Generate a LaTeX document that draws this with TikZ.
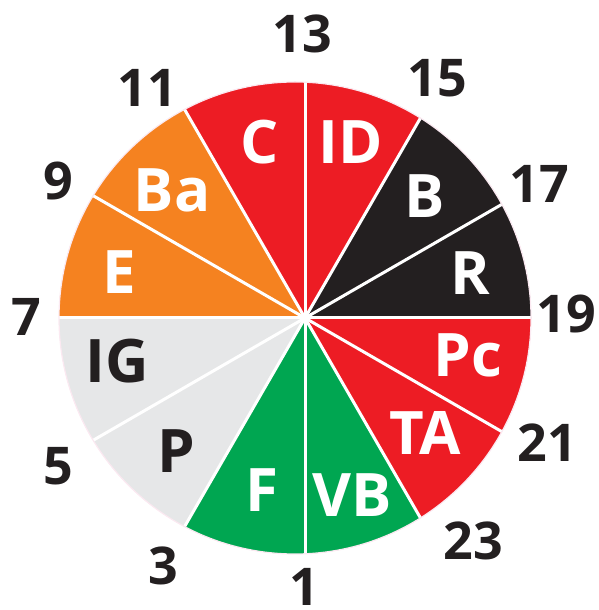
\documentclass[tikz,border=0pt]{standalone}
\usepackage{fontspec}
\setmainfont{Open Sans}
\definecolor{SegRed}{HTML}{ED1C24}
\definecolor{SegBlack}{HTML}{231F20}
\definecolor{SegOrange}{HTML}{F58220}
\definecolor{SegGreen}{HTML}{00A651}
\definecolor{SegGrey}{HTML}{E6E7E8}
\definecolor{RimPink}{HTML}{FBE9F1}
\tikzset{
  seglabel/.style={anchor=base, inner sep=0pt, font=\fontsize{60}{60}\selectfont\bfseries, text=white},
  numlabel/.style={anchor=base, inner sep=0pt, font=\fontsize{52}{52}\selectfont\bfseries, text=SegBlack},
  sepline/.style={white, line width=3pt},
}

\begin{document}
\begin{tikzpicture}[x=1pt, y=1pt]
  \useasboundingbox (0,0) rectangle (598,610);
  \coordinate (hub) at (305,292);
  \coordinate (ctr) at (295,292);

  % wedges
  \begin{scope}
    \clip (ctr) circle (236pt);
    \fill[SegBlack] (hub) -- ++(0:300pt) arc[start angle=0, end angle=60, radius=300pt] -- cycle;
    \fill[SegRed] (hub) -- ++(60:300pt) arc[start angle=60, end angle=120, radius=300pt] -- cycle;
    \fill[SegOrange] (hub) -- ++(120:300pt) arc[start angle=120, end angle=180, radius=300pt] -- cycle;
    \fill[SegGrey] (hub) -- ++(180:300pt) arc[start angle=180, end angle=240, radius=300pt] -- cycle;
    \fill[SegGreen] (hub) -- ++(240:300pt) arc[start angle=240, end angle=300, radius=300pt] -- cycle;
    \fill[SegRed] (hub) -- ++(300:300pt) arc[start angle=300, end angle=360, radius=300pt] -- cycle;

    \draw[sepline] (hub) -- ++(0:300pt);
    \draw[sepline] (hub) -- ++(30:300pt);
    \draw[sepline] (hub) -- ++(60:300pt);
    \draw[sepline] (hub) -- ++(90:300pt);
    \draw[sepline] (hub) -- ++(120:300pt);
    \draw[sepline] (hub) -- ++(150:300pt);
    \draw[sepline] (hub) -- ++(180:300pt);
    \draw[sepline] (hub) -- ++(210:300pt);
    \draw[sepline] (hub) -- ++(240:300pt);
    \draw[sepline] (hub) -- ++(270:300pt);
    \draw[sepline] (hub) -- ++(300:300pt);
    \draw[sepline] (hub) -- ++(330:300pt);
  \end{scope}
  \draw[RimPink, line width=1.2pt] (ctr) circle (236pt);

  % wedge labels
  \node[seglabel] (C) at (260,446) {C};
  \node[seglabel] (ID) at (351,446) {ID};
  \node[seglabel] (B) at (425,392) {B};
  \node[seglabel] (R) at (470,315) {R};
  \node[seglabel] (Pc) at (468,233) {Pc};
  \node[seglabel] (TA) at (425,155) {TA};
  \node[seglabel] (VB) at (352,93) {VB};
  \node[seglabel] (F) at (262,98) {F};
  \node[seglabel, text=SegBlack] (P) at (176,137) {P};
  \node[seglabel, text=SegBlack] (IG) at (117,227) {IG};
  \node[seglabel] (E) at (119,316) {E};
  \node[seglabel] (Ba) at (172,398) {Ba};

  % hour numbers
  \node[numlabel] (n13) at (302,557) {13};
  \node[numlabel] (n15) at (437,513) {15};
  \node[numlabel] (n17) at (539,407) {17};
  \node[numlabel] (n19) at (566,277) {19};
  \node[numlabel] (n21) at (547,148) {21};
  \node[numlabel] (n23) at (473,50) {23};
  \node[numlabel] (n1) at (304,5) {1};
  \node[numlabel] (n3) at (163,25) {3};
  \node[numlabel] (n5) at (58,125) {5};
  \node[numlabel] (n7) at (26,274) {7};
  \node[numlabel] (n9) at (58,410) {9};
  \node[numlabel] (n11) at (147,503) {11};
\end{tikzpicture}
\end{document}
